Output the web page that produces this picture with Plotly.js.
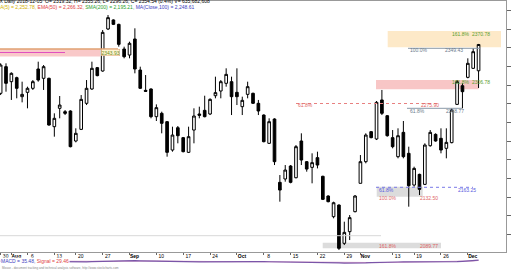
<!DOCTYPE html>
<html><head><meta charset="utf-8">
<script src="https://cdn.plot.ly/plotly-3.0.1.min.js"></script>
<style>html,body{margin:0;padding:0;background:#fff}#chart{width:512px;height:270px}</style>
</head><body><div id="chart"></div>
<script>
// ---- data ----
const session = Array.from({length: 90}, (_, i) => i); // trading-day index, Jul 30 .. Dec 5 2018
const openP = [2289.1,2324.8,2304.7,2310.1,2284.6,2290.4,2295.8,2321.7,2309.2,2309.2,
2244.4,2269.0,2264.5,2265.4,2225.2,2240.8,2275.7,2294.9,2323.5,2319.0,
2375.3,2387.4,2381.5,2348.5,2340.4,2361.9,2320.3,2293.1,2294.9,2257.8,
2262.3,2251.1,2213.1,2243.0,2229.7,2210.0,2239.9,2261.4,2266.3,2261.4,
2285.9,2292.2,2302.5,2304.7,2290.4,2271.2,2287.7,2289.1,2275.7,2260.0,
2222.1,2254.7,2169.8,2174.3,2191.7,2176.0,2225.2,2197.5,2189.9,2202.9,
2177.9,2151.5,2123.8,2139.4,2088.1,2103.7,2130.5,2168.5,2197.5,2237.7,
2227.9,2280.2,2259.1,2229.7,2204.2,2236.8,2208.7,2166.2,2180.5,2167.1,
2218.9,2234.1,2228.8,2215.4,2223.0,2274.3,2299.3,2310.5,2322.6,2319.32];
const highP = [2329.3,2329.3,2317.2,2311.4,2304.7,2298.0,2306.9,2331.5,2327.0,2310.1,
2262.3,2285.5,2266.7,2266.3,2242.2,2286.8,2306.9,2331.5,2324.4,2373.9,
2394.0,2388.2,2382.4,2351.6,2358.3,2376.2,2324.8,2313.6,2295.8,2274.3,
2264.5,2252.0,2244.4,2245.3,2230.6,2244.4,2269.0,2271.2,2285.9,2282.4,
2311.4,2306.9,2322.6,2311.4,2322.6,2284.6,2304.7,2290.0,2280.2,2260.9,
2255.6,2255.6,2179.6,2193.0,2193.0,2219.8,2235.5,2198.4,2208.7,2210.9,
2178.7,2152.4,2143.9,2140.3,2117.1,2126.0,2152.8,2206.4,2235.5,2238.6,
2278.8,2293.6,2260.0,2239.9,2242.2,2252.0,2217.6,2190.8,2181.4,2222.1,
2239.9,2235.5,2242.2,2242.2,2269.0,2306.9,2302.5,2336.0,2349.4,2355.26];
const lowP = [2286.8,2291.3,2280.2,2282.4,2277.0,2269.0,2293.6,2304.7,2293.6,2245.7,
2231.0,2255.6,2260.0,2216.7,2223.4,2239.9,2273.4,2293.6,2311.9,2318.1,
2373.9,2380.6,2351.6,2336.0,2336.0,2315.9,2294.9,2290.9,2255.6,2252.0,
2235.5,2204.2,2210.9,2222.1,2210.0,2209.1,2222.1,2255.6,2256.9,2260.0,
2282.4,2282.4,2298.0,2260.0,2273.4,2260.0,2282.4,2274.8,2260.0,2223.4,
2221.2,2193.0,2143.9,2170.7,2168.5,2175.2,2193.0,2184.1,2168.5,2188.5,
2146.1,2143.0,2121.6,2079.1,2085.8,2092.5,2129.6,2168.5,2195.3,2228.8,
2226.5,2260.0,2231.0,2215.4,2202.0,2202.0,2137.2,2164.0,2152.8,2166.2,
2217.6,2224.3,2208.7,2202.0,2222.1,2273.4,2269.0,2309.2,2321.7,2296.26];
const closeP = [2327.0,2302.5,2315.9,2295.8,2287.7,2295.8,2304.7,2306.9,2324.8,2246.6,
2255.6,2273.4,2262.3,2217.6,2235.5,2281.0,2295.8,2322.6,2312.8,2370.8,
2390.5,2381.5,2354.7,2338.2,2356.1,2321.7,2295.8,2291.8,2257.8,2269.9,
2248.9,2210.0,2233.2,2232.3,2210.9,2231.0,2258.7,2259.6,2257.8,2281.0,
2290.0,2304.7,2314.5,2284.6,2284.6,2279.7,2298.0,2275.7,2265.4,2224.3,
2251.1,2197.5,2159.5,2186.3,2169.8,2217.6,2199.7,2187.6,2196.2,2193.0,
2147.0,2143.9,2142.5,2081.4,2102.8,2122.5,2151.5,2197.5,2233.2,2229.7,
2277.0,2262.3,2232.3,2217.6,2232.3,2204.2,2165.3,2188.5,2160.4,2219.8,
2236.8,2225.2,2213.1,2223.4,2266.7,2304.7,2291.3,2329.3,2344.9,2354.54];
const macd = [10,8,6,4,2,1,0,1,2,2, 0,-3,-5,-9,-10,-8,-5,-1,4,8,
15,20,23,24,23,22,20,16,12,8, 4,0,-5,-8,-10,-12,-11,-9,-8,-6,
-3,-1,1,3,3,2,1,1,0,-1, -4,-5,-9,-14,-17,-18,-17,-18,-19,-20,
-23,-25,-28,-33,-38,-40,-39,-36,-30,-24, -18,-14,-11,-10,-10,-9,-9,-12,-13,-15,
-13,-10,-8,-7,-6,-2,6,14,24,35.48];
const signal = [12,11,10,8,7,5,4,3,3,2, 2,1,0,-2,-4,-5,-5,-4,-2,0,
3,6,9,12,14,16,17,17,16,15, 12,10,7,4,1,-2,-4,-5,-6,-6,
-5,-4,-3,-2,-1,0,0,0,0,0, -1,-2,-3,-6,-8,-10,-12,-13,-14,-15,
-17,-18,-20,-23,-26,-29,-31,-32,-32,-30, -28,-25,-22,-20,-18,-16,-14,-14,-14,-14,
-14,-13,-12,-11,-10,-8,-5,1,15,29.46];
const tickIdx = [0,2,5,10,14,19,24,29,34,39,44,49,54,59,64,67,73,77,82,87];
const tickText = ["30","<b>Aug</b>","6","13","20","27","<b>Sep</b>","10","17","24","<b>Oct</b>","8","15","22","29","<b>Nov</b>","13","19","26","<b>Dec</b>"];
const fibPct  = ["161.8%","100.0%","161.8%","61.8%","61.8%","61.8%","100.0%","161.8%"];
const fibVal  = ["2370.78","2349.43","2306.78","2275.90","2268.77","2163.25","2132.50","2089.77"];
const leftLevel = "2343.93";

// ---- helpers for pixel <-> axis (layout only) ----
const W = 512, H = 270;
const yTop = 1, yBot = 252;              // price panel pixels
const pxPerIdx = 5.37, idx0px = 0.63;
const xr = [(0 - idx0px)/pxPerIdx, (506 - idx0px)/pxPerIdx];
const pAt = y => 2349.43 - (y - 48.3)*1.34;
const ix = px => (px - idx0px)/pxPerIdx;
const yr = [pAt(yBot), pAt(yTop)];

const FONT = "Liberation Sans, Arial, sans-serif";
const green = "#5c9e2e", slate = "#6b7b8c", red = "#e06666", blue = "#5a5ae0";

const traces = [
  {type:'candlestick', x: session, open: openP, high: highP, low: lowP, close: closeP,
   xaxis:'x', yaxis:'y',
   increasing:{line:{color:'#000', width:1}, fillcolor:'#fff'},
   decreasing:{line:{color:'#000', width:1}, fillcolor:'#000'},
   whiskerwidth:0, hoverinfo:'skip', showlegend:false},
  {type:'scatter', mode:'lines', x: session, y: signal, xaxis:'x2', yaxis:'y2',
   line:{color:'#d8a0c8', width:1}, hoverinfo:'skip', showlegend:false},
  {type:'scatter', mode:'lines', x: session, y: macd, xaxis:'x2', yaxis:'y2',
   line:{color:'#7a55a8', width:1.2}, hoverinfo:'skip', showlegend:false}
];

const shapes = [
  {type:'rect', xref:'x', yref:'y', x0: xr[0], x1: ix(100), y0: pAt(56.5), y1: pAt(49), fillcolor:'#f9c9c9', line:{width:0}, layer:'below'},
  {type:'line', xref:'x', yref:'y', x0: xr[0], x1: ix(118), y0: pAt(49), y1: pAt(49), line:{color:'#e0a070', width:1.5}},
  {type:'line', xref:'x', yref:'y', x0: xr[0], x1: ix(65), y0: pAt(52.5), y1: pAt(52.5), line:{color:'#e050c0', width:1}},
  {type:'rect', xref:'x', yref:'y', x0: ix(387.7), x1: ix(501), y0: pAt(47.3), y1: pAt(31), fillcolor:'#fde9c8', line:{width:0}, layer:'below'},
  {type:'line', xref:'x', yref:'y', x0: ix(408), x1: ix(480), y0: pAt(48.3), y1: pAt(48.3), line:{color:'#8a99a8', width:1}},
  {type:'rect', xref:'x', yref:'y', x0: ix(376), x1: ix(478.7), y0: pAt(89.3), y1: pAt(80), fillcolor:'#f8c6c6', line:{width:0}, layer:'below'},
  {type:'line', xref:'x', yref:'y', x0: ix(296), x1: ix(437), y0: pAt(103.5), y1: pAt(103.5), line:{color:'#e88080', width:1, dash:'dot'}},
  {type:'line', xref:'x', yref:'y', x0: ix(407), x1: ix(462), y0: pAt(108.3), y1: pAt(108.3), line:{color:'#8a99a8', width:1}},
  {type:'rect', xref:'x', yref:'y', x0: ix(376.7), x1: ix(422.7), y0: pAt(196.7), y1: pAt(186.7), fillcolor:'#dcdcdc', line:{width:0}, layer:'below'},
  {type:'line', xref:'x', yref:'y', x0: ix(376), x1: ix(473), y0: pAt(187.3), y1: pAt(187.3), line:{color:'#7a7ae8', width:1, dash:'dot'}},
  {type:'rect', xref:'x', yref:'y', x0: ix(322.7), x1: ix(441), y0: pAt(248.3), y1: pAt(242.7), fillcolor:'#dcdcdc', line:{width:0}, layer:'below'},
  {type:'line', xref:'x', yref:'y', x0: xr[0], x1: ix(381), y0: pAt(235.7), y1: pAt(235.7), line:{color:'#d8d8d8', width:1}}
];

const ann = [];
const A = (txt, px, py, color) => ann.push({text: txt, xref:'x', yref:'y', x: ix(px), y: pAt(py),
  xanchor:'left', yanchor:'middle', showarrow:false, font:{family:FONT, size:5, color: color}});
A(fibPct[0], 450, 34, green); A(fibVal[0], 470, 34, green);
A(fibPct[1], 408, 50.5, slate); A(fibVal[1], 443, 50.5, slate);
A(fibPct[2], 450, 82.5, green); A(fibVal[2], 470, 82.5, green);
A(fibPct[3], 296, 105.5, red); A(fibVal[3], 419, 105.5, red);
A(fibPct[4], 408, 111.5, slate); A(fibVal[4], 444, 111.5, slate);
A(fibPct[5], 377, 190, blue); A(fibVal[5], 456, 190, blue);
A(fibPct[6], 377, 197.5, red); A(fibVal[6], 418, 197.5, red);
A(fibPct[7], 377, 245.5, red); A(fibVal[7], 418, 245.5, red);
ann.push({text: leftLevel, xref:'x', yref:'y', x: ix(101), y: pAt(52.7), xanchor:'left', yanchor:'middle', showarrow:false,
  font:{family:FONT, size:5, color:'#6b8e23'}, bgcolor:'#fdf3d0', bordercolor:'#e0a070', borderwidth:0.5, borderpad:0});
ann.push({text: "$XXX Daily 2018-12-05  O= 2319.32, H= 2355.26, L= 2296.26, C= 2354.54 (0.4%) V= 635,682,608",
  xref:'paper', yref:'paper', x: 0, xshift: -12, y: 1 - 1/H, xanchor:'left', yanchor:'middle', showarrow:false,
  font:{family:FONT, size:5, color:'#000'}});
ann.push({text: "<span style='color:#d4b000'>MA(5) = 2,252.78,</span> <span style='color:#e04040'>EMA(50) = 2,266.32,</span> <span style='color:#2ca02c'>SMA(200) = 2,195.21,</span> <span style='color:#4040c0'>MA(Close,100) = 2,248.61</span>",
  xref:'paper', yref:'paper', x: 0, xshift: -6, y: 1 - 7/H, xanchor:'left', yanchor:'middle', showarrow:false,
  font:{family:FONT, size:5, color:'#000'}});
ann.push({text: "<span style='color:#4040c0'>MACD = 35.48,</span> <span style='color:#e04040'>Signal = 29.46</span>",
  xref:'paper', yref:'paper', x: 0, y: 1 - 261/H, xanchor:'left', yanchor:'middle', showarrow:false,
  font:{family:FONT, size:5, color:'#000'}, bgcolor:'#fff', borderpad:0});
ann.push({text: "Mouse - document tracking and technical analysis software, http://www.stockcharts.com",
  xref:'paper', yref:'paper', x: 0, y: 1 - 268/H, xanchor:'left', yanchor:'middle', showarrow:false,
  font:{family:FONT, size:3, color:'#888'}});

const layout = {
  width: W, height: H, margin:{l:0, r:6, t:0, b:0, pad:0},
  paper_bgcolor:'#fff', plot_bgcolor:'#fff', showlegend:false, dragmode:false,
  xaxis:{domain:[0,1], anchor:'y', range: xr, showgrid:false, zeroline:false,
    showline:true, linecolor:'#999', linewidth:1, mirror:true,
    tickmode:'array', tickvals: tickIdx, ticktext: tickText, ticks:'outside', ticklen:2, tickcolor:'#666',
    tickfont:{family:FONT, size:5, color:'#000'}, ticklabelshift: 5, ticklabelstandoff: -3,
    rangeslider:{visible:false}, fixedrange:true},
  yaxis:{domain:[1 - yBot/H, 1 - yTop/H], range: yr, side:'right', showgrid:false, zeroline:false,
    showline:true, linecolor:'#999', linewidth:1, ticks:'outside', ticklen:4, tickcolor:'#666',
    showticklabels:false, dtick: 25, fixedrange:true},
  xaxis2:{domain:[0,1], anchor:'y2', range: xr, showgrid:false, zeroline:false, showticklabels:false,
    showline:false, matches:'x'},
  yaxis2:{domain:[1 - 266/H, 1 - 258/H], range:[-110, 90], showgrid:false, zeroline:false, showticklabels:false,
    showline:false},
  shapes: shapes, annotations: ann
};
Plotly.newPlot('chart', traces, layout, {staticPlot:true, displayModeBar:false});
</script></body></html>
